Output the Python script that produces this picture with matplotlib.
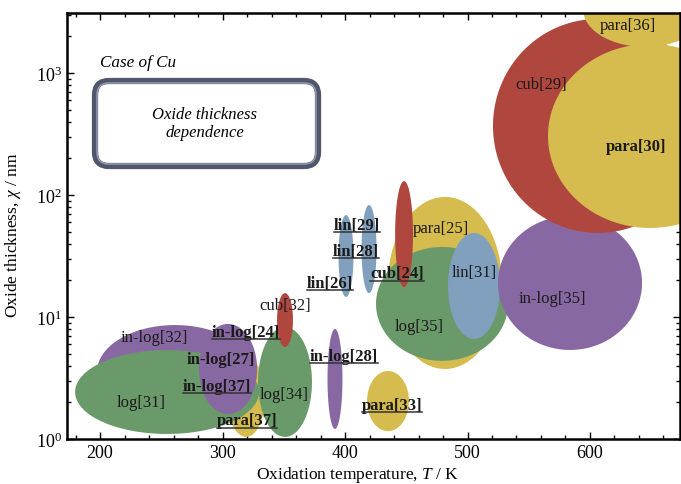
import numpy as np
import matplotlib
matplotlib.use("Agg")
import matplotlib.pyplot as plt
from matplotlib.patches import Polygon, FancyBboxPatch
from matplotlib.lines import Line2D
from matplotlib.ticker import MultipleLocator, LogLocator

plt.rcParams['font.family'] = ['Liberation Serif', 'DejaVu Serif']
plt.rcParams['mathtext.fontset'] = 'custom'
plt.rcParams['mathtext.rm'] = 'Liberation Serif'
plt.rcParams['mathtext.it'] = 'Liberation Serif:italic'
plt.rcParams['mathtext.bf'] = 'Liberation Serif:bold'

# Datos: rango de temperatura (K) y de espesor de óxido (nm) de cada estudio
names = ['para[37]', 'in-log[32]', 'log[31]', 'in-log[27]', 'log[34]', 'cub[32]',
         'in-log[28]', 'para[33]', 'lin[29]', 'lin[28]', 'para[25]', 'log[35]',
         'cub[24]', 'lin[31]', 'in-log[35]', 'cub[29]', 'para[36]', 'para[30]']
T_lo = [303.7, 197.5, 179.6, 280.8, 329.0, 344.5, 385.7, 418.0, 394.7, 413.5,
        435.1, 425.3, 440.9, 484.1, 524.9, 520.8, 594.3, 565.7]
T_hi = [334.7, 324.9, 329.8, 328.2, 373.0, 357.5, 397.9, 452.2, 406.9, 425.7,
        528.1, 533.1, 455.5, 526.5, 642.5, 692.2, 695.5, 732.3]
chi_lo = [1.04, 1.46, 1.10, 1.60, 1.04, 5.68, 1.21, 1.16, 14.6, 15.7,
          3.75, 4.37, 17.6, 6.61, 5.37, 48.9, 1637, 53.7]
chi_hi = [4.70, 8.59, 5.36, 8.77, 8.28, 15.7, 7.98, 3.61, 68.5, 82.8,
          96.4, 37.5, 130, 48.8, 67.3, 2773, 6855, 1730]
kinds = ['para', 'in-log', 'log', 'in-log', 'log', 'cub', 'in-log', 'para', 'lin', 'lin',
         'para', 'log', 'cub', 'lin', 'in-log', 'cub', 'para', 'para']

colores = {'para': '#d6bc4f', 'in-log': '#8868a2', 'log': '#6a996a',
           'cub': '#b0473f', 'lin': '#80a0be'}

# Etiquetas: texto, posición (T, chi), negrita, subrayado
lab_text = ['para[36]', 'cub[29]', 'para[30]', 'para[25]', 'lin[31]', 'in-log[35]', 'log[35]',
            'lin[29]', 'lin[28]', 'cub[24]', 'lin[26]', 'cub[32]', 'in-log[32]', 'in-log[24]',
            'in-log[27]', 'in-log[37]', 'in-log[28]', 'log[31]', 'log[34]', 'para[37]', 'para[33]']
lab_T = [631, 560, 637.6, 478.4, 505.3, 569, 460.4, 409.8, 409, 442.4, 387.8, 351, 244,
         319.2, 298.8, 295.5, 399.2, 233.5, 350.2, 320, 438.4]
lab_chi = [2473, 813, 252, 53.7, 23.4, 14.3, 8.44, 56.8, 34.8, 22.9, 19.0, 12.5, 6.86,
           7.54, 4.53, 2.72, 4.79, 2.01, 2.34, 1.43, 1.90]
lab_bold = [0, 0, 1, 0, 0, 0, 0, 1, 1, 1, 1, 0, 0, 1, 1, 1, 1, 0, 0, 1, 1]
lab_ul = [0, 0, 0, 0, 0, 0, 0, 1, 1, 1, 1, 0, 0, 1, 0, 1, 1, 0, 0, 1, 1]

fig = plt.figure(figsize=(6.81, 4.85), dpi=100)
ax = fig.add_axes([67 / 681, 45 / 485, 613 / 681, 426 / 485])
ax.set_yscale('log')
ax.set_xlim(173, 673.5)
ax.set_ylim(1, 10 ** (426 / 122))

# Elipses en espacio (T, log chi)
t = np.linspace(0, 2 * np.pi, 200)
for i in range(len(names)):
    tc = (T_lo[i] + T_hi[i]) / 2
    tw = (T_hi[i] - T_lo[i]) / 2
    lc = (np.log10(chi_lo[i]) + np.log10(chi_hi[i])) / 2
    lh = (np.log10(chi_hi[i]) - np.log10(chi_lo[i])) / 2
    xs = tc + tw * np.cos(t)
    ys = 10 ** (lc + lh * np.sin(t))
    ax.add_patch(Polygon(np.column_stack([xs, ys]), closed=True,
                         facecolor=colores[kinds[i]], edgecolor='none', zorder=2 + i * 0.01))

textos = []
for i in range(len(lab_text)):
    tx = ax.text(lab_T[i], lab_chi[i], lab_text[i], ha='center', va='center',
                 fontsize=12, fontweight='bold' if lab_bold[i] else 'normal',
                 color='#1a1a1a', zorder=5)
    textos.append(tx)

ax.text(200, 10 ** ((440 - 63) / 122), 'Case of Cu', style='italic', fontsize=12.3,
        ha='left', va='center')

# ejes
for s in ax.spines.values():
    s.set_linewidth(1.8)
ax.xaxis.set_major_locator(MultipleLocator(100))
ax.xaxis.set_minor_locator(MultipleLocator(20))
ax.yaxis.set_minor_locator(LogLocator(base=10, subs=np.arange(2, 10)))
ax.tick_params(which='both', direction='in', top=True, right=True, labelsize=13)
ax.tick_params(which='major', length=5, width=1)
ax.tick_params(which='minor', length=3, width=1)
ax.set_xlabel('Oxidation temperature, $T$ / K', fontsize=12.5)
ax.set_ylabel('Oxide thickness, $\\chi$ / nm', fontsize=12.5)
ax.xaxis.set_label_coords((358 - 67) / 613, -0.058)
ax.yaxis.set_label_coords(-0.072, (440 - 235) / 426)

# recuadro redondeado
box = FancyBboxPatch((95, 485 - 167), 223, 85, boxstyle='round,pad=0,rounding_size=14',
                     transform=None, facecolor='white', edgecolor='#50566b', linewidth=4.5,
                     zorder=10)
fig.patches.append(box)
box2 = FancyBboxPatch((97, 485 - 165), 219, 81, boxstyle='round,pad=0,rounding_size=12',
                      transform=None, facecolor='none', edgecolor='#9ca1b5', linewidth=1.0,
                      zorder=11)
fig.patches.append(box2)
fig.text(205 / 681, 1 - 124 / 485, 'Oxide thickness\ndependence', style='italic',
         fontsize=12, ha='center', va='center', linespacing=1.2, zorder=12)

# subrayados
fig.canvas.draw()
r = fig.canvas.get_renderer()
for i, tx in enumerate(textos):
    if lab_ul[i]:
        bb = tx.get_window_extent(r)
        fig.add_artist(Line2D([bb.x0, bb.x1], [bb.y0 + 0.5, bb.y0 + 0.5], transform=None,
                              color='#333333', linewidth=1.1, zorder=6))

fig.savefig('out.png', dpi=100)
